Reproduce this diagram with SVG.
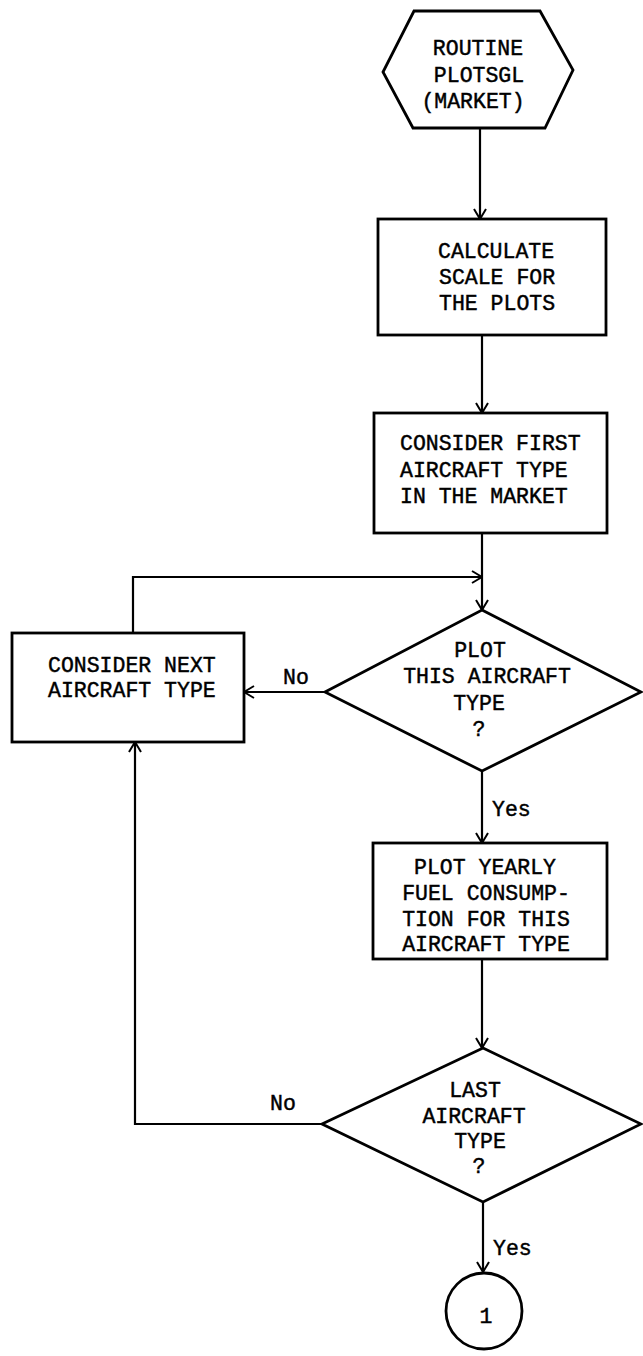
<svg xmlns="http://www.w3.org/2000/svg" width="643" height="1356" viewBox="0 0 643 1356">
<defs>
<style>
.shape{fill:#fff;stroke:#000;stroke-width:2.8;stroke-linejoin:miter}
.conn{fill:none;stroke:#000;stroke-width:2.2}
.t{font-family:"Liberation Mono","Courier New",monospace;font-size:21.5px;fill:#000;stroke:#000;stroke-width:0.45}
.m{text-anchor:middle}
</style>
<marker id="arr" viewBox="0 0 14 14" refX="13" refY="7" markerWidth="14" markerHeight="14" markerUnits="userSpaceOnUse" orient="auto">
<path d="M3,1 L13,7 L3,13" fill="none" stroke="#000" stroke-width="2"/>
</marker>
</defs>
<rect width="643" height="1356" fill="#fff"/>

<g id="connectors">
<path class="conn" d="M480,128 V219" marker-end="url(#arr)"/>
<path class="conn" d="M482,335 V413" marker-end="url(#arr)"/>
<path class="conn" d="M482,533 V610" marker-end="url(#arr)"/>
<path class="conn" d="M133,633 V577 H482" marker-end="url(#arr)"/>
<path class="conn" d="M325,692 H244" marker-end="url(#arr)"/>
<path class="conn" d="M482,771 V843" marker-end="url(#arr)"/>
<path class="conn" d="M482,959 V1048" marker-end="url(#arr)"/>
<path class="conn" d="M322,1124 H135 V742" marker-end="url(#arr)"/>
<path class="conn" d="M483,1202 V1272" marker-end="url(#arr)"/>
<text class="t" x="283" y="684">No</text>
<text class="t" x="492" y="816">Yes</text>
<text class="t" x="270" y="1110">No</text>
<text class="t" x="493" y="1255">Yes</text>
</g>

<g id="start">
<polygon class="shape" points="414,11 540,11 573,70 545,128 413,128 383,72"/>
<text class="t m" x="478" y="55">ROUTINE</text>
<text class="t m" x="479" y="82">PLOTSGL</text>
<text class="t m" x="473" y="108">(MARKET)</text>
</g>

<g id="calc-scale">
<rect class="shape" x="378" y="219" width="228" height="116"/>
<text class="t" x="438" y="258">CALCULATE</text>
<text class="t" x="439" y="284">SCALE FOR</text>
<text class="t" x="439" y="310">THE PLOTS</text>
</g>

<g id="first-type">
<rect class="shape" x="374" y="413" width="233" height="120"/>
<text class="t" x="400" y="450">CONSIDER FIRST</text>
<text class="t" x="400" y="477">AIRCRAFT TYPE</text>
<text class="t" x="400" y="503">IN THE MARKET</text>
</g>

<g id="next-type">
<rect class="shape" x="12" y="633" width="232" height="109"/>
<text class="t" x="48" y="672">CONSIDER NEXT</text>
<text class="t" x="48" y="697">AIRCRAFT TYPE</text>
</g>

<g id="plot-decision">
<polygon class="shape" points="482,610 641,692 482,771 325,692"/>
<text class="t m" x="480" y="657">PLOT</text>
<text class="t m" x="487" y="683">THIS AIRCRAFT</text>
<text class="t m" x="479" y="710">TYPE</text>
<text class="t m" x="479" y="736">?</text>
</g>

<g id="plot-fuel">
<rect class="shape" x="373" y="843" width="234" height="116"/>
<text class="t m" x="485" y="874">PLOT YEARLY</text>
<text class="t m" x="486" y="900">FUEL CONSUMP-</text>
<text class="t m" x="486" y="926">TION FOR THIS</text>
<text class="t m" x="486" y="951">AIRCRAFT TYPE</text>
</g>

<g id="last-decision">
<polygon class="shape" points="483,1048 641,1124 483,1202 322,1124"/>
<text class="t m" x="475" y="1097">LAST</text>
<text class="t m" x="474" y="1123">AIRCRAFT</text>
<text class="t m" x="480" y="1148">TYPE</text>
<text class="t m" x="479" y="1173">?</text>
</g>

<g id="connector-1">
<circle class="shape" cx="484" cy="1311" r="38"/>
<text class="t m" x="486" y="1323">1</text>
</g>
</svg>
